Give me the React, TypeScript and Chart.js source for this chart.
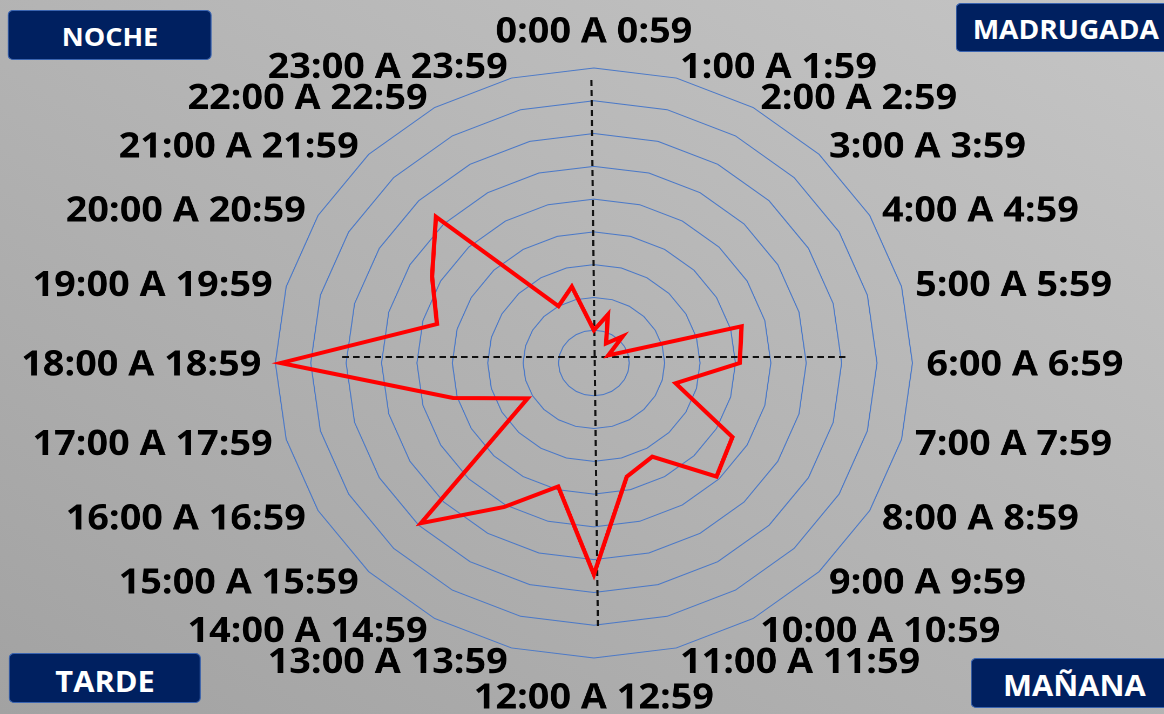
import React, { useEffect, useRef } from "react";
import { Chart, registerables } from "chart.js";

Chart.register(...registerables);

const hourLabels: string[] = [
  "0:00 A 0:59",
  "1:00 A 1:59",
  "2:00 A 2:59",
  "3:00 A 3:59",
  "4:00 A 4:59",
  "5:00 A 5:59",
  "6:00 A 6:59",
  "7:00 A 7:59",
  "8:00 A 8:59",
  "9:00 A 9:59",
  "10:00 A 10:59",
  "11:00 A 11:59",
  "12:00 A 12:59",
  "13:00 A 13:59",
  "14:00 A 14:59",
  "15:00 A 15:59",
  "16:00 A 16:59",
  "17:00 A 17:59",
  "18:00 A 18:59",
  "19:00 A 19:59",
  "20:00 A 20:59",
  "21:00 A 21:59",
  "22:00 A 22:59",
  "23:00 A 23:59",
];

const seriesValues: number[] = [
  1.0, 1.53, 0.69, 1.15, 0.47, 4.32, 4.12, 2.39, 4.52, 4.9, 3.3, 3.59,
  6.45, 3.9, 5.07, 6.91, 2.16, 4.12, 8.85, 4.59, 5.28, 6.31, 2.0, 2.41,
];

const scaleMax = 9;
const scaleStep = 1;

const periodLabels: string[] = ["NOCHE", "MADRUGADA", "TARDE", "MAÑANA"];

const STRETCH_W = 1078;
const PAGE_W = 1164;
const PAGE_H = 714;

const overlayPlugin = {
  id: "overlay",
  beforeDatasetsDraw(chart: any) {
    const s = chart.scales.r;
    const ctx = chart.ctx as CanvasRenderingContext2D;
    const xc = s.xCenter;
    const yc = s.yCenter;
    ctx.save();
    ctx.strokeStyle = "#111111";
    ctx.lineWidth = 2;
    ctx.setLineDash([6, 4]);
    ctx.beginPath();
    ctx.moveTo(xc - 233, yc - 6);
    ctx.lineTo(xc + 235, yc - 6);
    ctx.stroke();
    ctx.beginPath();
    ctx.moveTo(xc - 2.3, yc - 283);
    ctx.lineTo(xc + 3.7, yc + 264);
    ctx.stroke();
    ctx.restore();
  },
  afterDraw(chart: any) {
    const s = chart.scales.r;
    const ctx = chart.ctx as CanvasRenderingContext2D;
    const labels: string[] = chart.data.labels;
    const n = labels.length;
    ctx.save();
    ctx.font = 'bold 35px "Open Sans"';
    ctx.fillStyle = "#000000";
    ctx.textBaseline = "alphabetic";
    for (let i = 0; i < n; i++) {
      const top = i === 0;
      const bottom = i === n / 2;
      const dist = s.drawingArea + (top || bottom ? 38 : 13);
      const p = s.getPointPosition(i, dist);
      if (top || bottom) ctx.textAlign = "center";
      else if (i < n / 2) ctx.textAlign = "left";
      else ctx.textAlign = "right";
      ctx.fillText(labels[i], p.x, p.y + 12.5);
    }
    ctx.restore();
  },
};

const boxBase: React.CSSProperties = {
  position: "absolute",
  background: "#002060",
  border: "1px solid #3a64b0",
  borderRadius: 5,
  color: "#ffffff",
  fontFamily: '"Open Sans", sans-serif',
  fontWeight: 700,
  fontSize: 25,
  display: "flex",
  alignItems: "center",
  justifyContent: "center",
  boxSizing: "border-box",
  lineHeight: 1,
};

export default function App() {
  const canvasRef = useRef<HTMLCanvasElement | null>(null);

  useEffect(() => {
    if (!canvasRef.current) return;
    const chart = new Chart(canvasRef.current, {
      type: "radar",
      data: {
        labels: hourLabels,
        datasets: [
          {
            label: "Serie",
            data: seriesValues,
            borderColor: "#ff0000",
            borderWidth: 4,
            backgroundColor: "rgba(0,0,0,0)",
            fill: false,
            pointRadius: 0,
            pointHoverRadius: 0,
            borderJoinStyle: "miter",
            tension: 0,
          },
        ],
      },
      options: {
        animation: false,
        responsive: true,
        maintainAspectRatio: false,
        devicePixelRatio: 2,
        layout: { padding: { top: 68, bottom: 55, left: 100, right: 78 } },
        plugins: {
          legend: { display: false },
          tooltip: { enabled: false },
          title: { display: false },
        },
        scales: {
          r: {
            min: 0,
            max: scaleMax,
            ticks: { display: false, stepSize: scaleStep },
            grid: { color: "#4a78c8", lineWidth: 1 },
            angleLines: { display: false },
            pointLabels: { display: false },
          },
        },
      } as any,
      plugins: [overlayPlugin],
    });
    return () => chart.destroy();
  }, []);

  return (
    <div
      style={{
        position: "fixed",
        left: 0,
        top: 0,
        width: PAGE_W,
        height: PAGE_H,
        overflow: "hidden",
        background: "linear-gradient(to bottom left, #c5c5c5, #a2a2a2)",
      }}
    >
      <div
        style={{
          position: "absolute",
          left: 0,
          top: 0,
          width: STRETCH_W,
          height: PAGE_H,
          transform: `scaleX(${PAGE_W / STRETCH_W})`,
          transformOrigin: "0 0",
        }}
      >
        <div style={{ position: "absolute", left: 0, top: 0, width: STRETCH_W, height: PAGE_H }}>
          <canvas ref={canvasRef} />
        </div>
        <div style={{ ...boxBase, left: 7.4, top: 9.5, width: 189, height: 50, paddingTop: 3, fontSize: 25 }}>
          {periodLabels[0]}
        </div>
        <div style={{ ...boxBase, left: 885, top: 3, width: 204, height: 49, paddingTop: 3, fontSize: 26 }}>
          {periodLabels[1]}
        </div>
        <div style={{ ...boxBase, left: 8.3, top: 653, width: 178, height: 50, paddingTop: 6, fontSize: 28.5 }}>
          {periodLabels[2]}
        </div>
        <div style={{ ...boxBase, left: 899, top: 658, width: 192, height: 50, paddingTop: 5, fontSize: 28.5 }}>
          {periodLabels[3]}
        </div>
      </div>
    </div>
  );
}
